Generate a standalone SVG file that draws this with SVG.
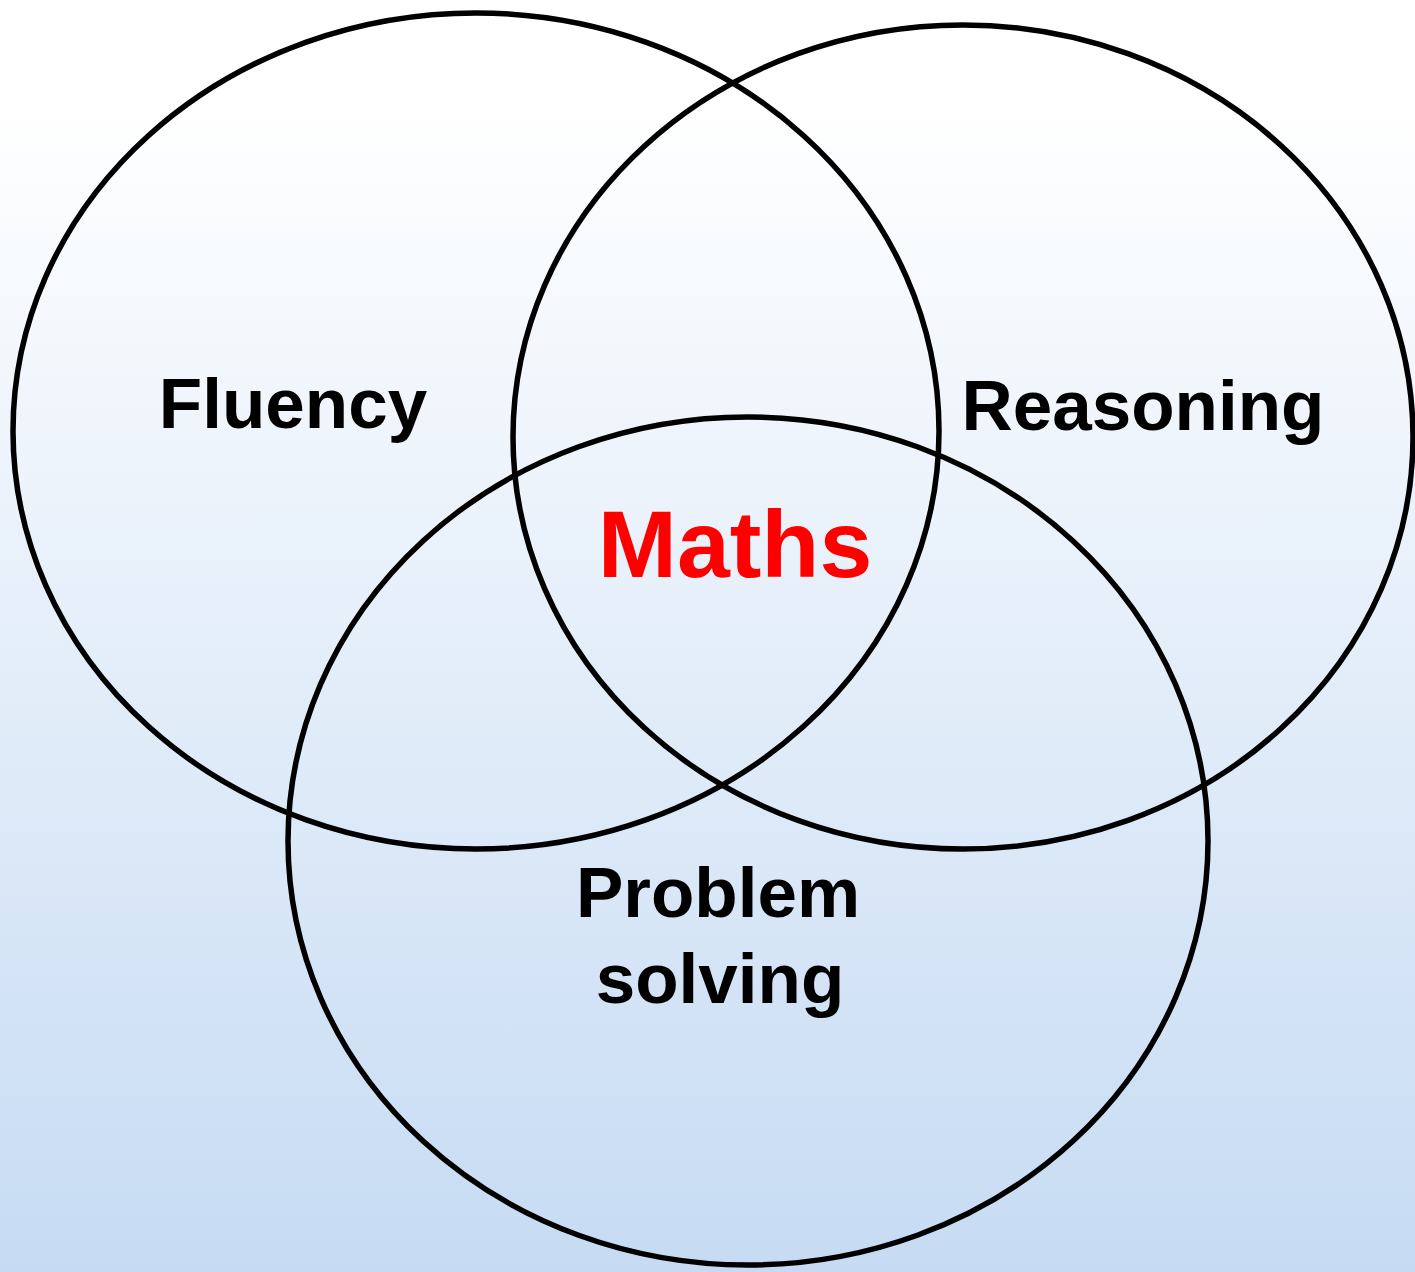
<svg xmlns="http://www.w3.org/2000/svg" width="1415" height="1272" viewBox="0 0 1415 1272">
  <defs>
    <linearGradient id="bg" x1="0" y1="0" x2="0" y2="1">
      <stop offset="0" stop-color="#ffffff"/>
      <stop offset="0.08" stop-color="#ffffff"/>
      <stop offset="1" stop-color="#c6dbf3"/>
    </linearGradient>
  </defs>
  <style>
    .ring { fill: none; stroke: #000; stroke-width: 5.5; }
    .lbl { font-family: "Liberation Sans", Arial, sans-serif; font-weight: bold; font-size: 71px; fill: #000; text-anchor: middle; }
    .main { font-size: 95px; fill: #ff0000; }
  </style>
  <rect x="0" y="0" width="1415" height="1272" fill="url(#bg)"/>
  <g id="connectors"></g>
  <g id="fluency">
    <ellipse class="ring" cx="476" cy="431" rx="463" ry="418"/>
    <text class="lbl" x="293" y="428">Fluency</text>
  </g>
  <g id="reasoning">
    <ellipse class="ring" cx="963" cy="437" rx="450" ry="412"/>
    <text class="lbl" x="1143" y="430">Reasoning</text>
  </g>
  <g id="problem-solving">
    <ellipse class="ring" cx="748" cy="841" rx="460" ry="424"/>
    <text class="lbl" x="718" y="917" font-size="74">Problem</text>
    <text class="lbl" x="720" y="1003" font-size="74">solving</text>
  </g>
  <g id="maths">
    <text class="lbl main" x="735" y="577">Maths</text>
  </g>
</svg>
